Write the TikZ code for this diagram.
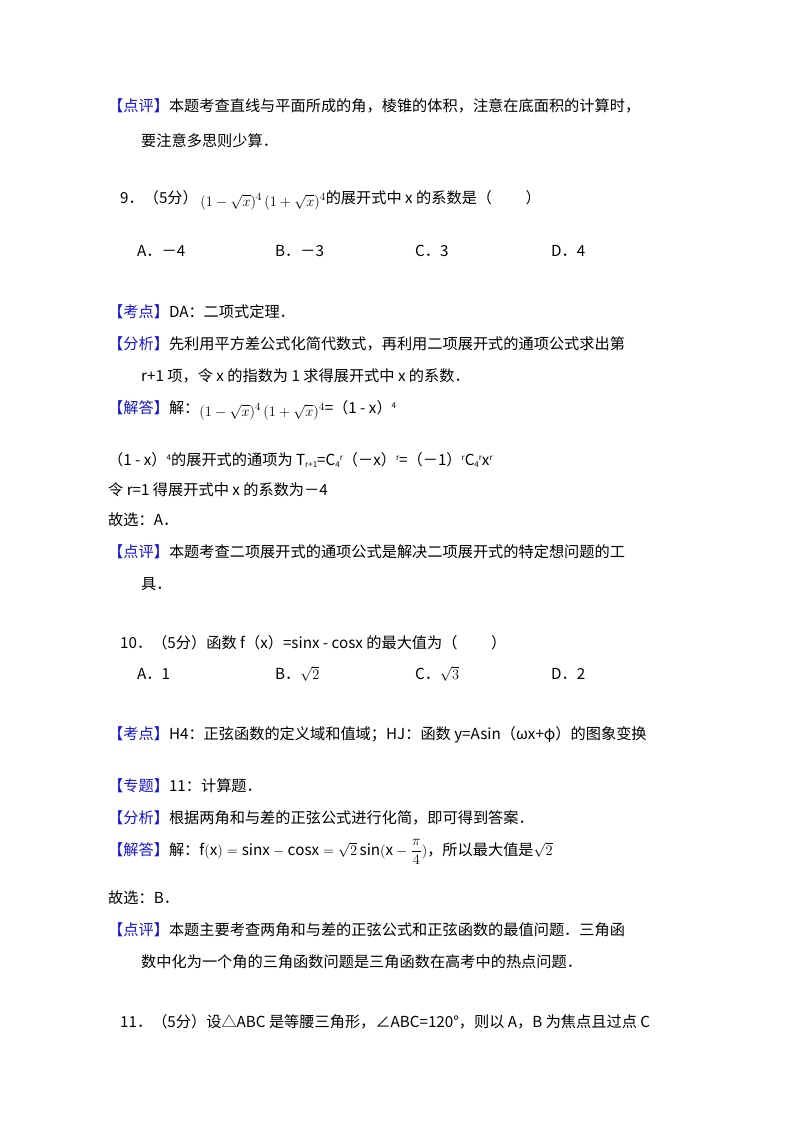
\documentclass[tikz,border=0pt]{standalone}
\usepackage{fontspec}
\setmainfont{Noto Sans CJK SC}
\definecolor{tagblue}{RGB}{20,20,220}
\newcommand{\tg}[1]{\textcolor{tagblue}{【#1】}}
\newcommand{\sps}[1]{\raisebox{5pt}{\fontsize{8}{9}\selectfont #1}}
\newcommand{\sbs}[1]{\raisebox{-2pt}{\fontsize{8}{9}\selectfont #1}}
\begin{document}
\begin{tikzpicture}[x=1pt,y=-1pt,every node/.style={anchor=west,inner sep=0pt,font=\fontsize{15.2}{18}\selectfont}]
\useasboundingbox (0,0) rectangle (800,1132);
\node (l1) at (108,106) {\tg{点评}本题考查直线与平面所成的角，棱锥的体积，注意在底面积的计算时，};
\node (l2) at (141,141) {要注意多思则少算．};
\node (l3) at (120,200) {9．（5分）\,\raisebox{-3pt}{$(1-\sqrt{x})^4\,(1+\sqrt{x})^4$}的展开式中 x 的系数是（\hspace{2.2em}）};
\node (a1) at (137,251) {A．－4};
\node (a2) at (275,251) {B．－3};
\node (a3) at (415,251) {C．3};
\node (a4) at (551,251) {D．4};
\node (l4) at (108,312) {\tg{考点}DA：二项式定理．};
\node (l5) at (108,344) {\tg{分析}先利用平方差公式化简代数式，再利用二项展开式的通项公式求出第};
\node (l6) at (141,376) {r+1 项，令 x 的指数为 1 求得展开式中 x 的系数．};
\node (l7) at (108,410) {\tg{解答}解：\raisebox{-3pt}{$(1-\sqrt{x})^4\,(1+\sqrt{x})^4$}=（1 - x）\sps{4}};
\node (l8) at (108,460) {（1 - x）\sps{4}的展开式的通项为 T\sbs{r+1}=C\sbs{4}\sps{r}（－x）\sps{r}=（－1）\sps{r}C\sbs{4}\sps{r}x\sps{r}};
\node (l9) at (108,490) {令 r=1 得展开式中 x 的系数为－4};
\node (l10) at (108,520) {故选：A．};
\node (l11) at (108,552) {\tg{点评}本题考查二项展开式的通项公式是解决二项展开式的特定想问题的工};
\node (l12) at (141,584) {具．};
\node (l13) at (120,643) {10．（5分）函数 f（x）=sinx - cosx 的最大值为（\hspace{2.2em}）};
\node (b1) at (137,674) {A．1};
\node (b2) at (275,674) {B．$\sqrt{2}$};
\node (b3) at (415,674) {C．$\sqrt{3}$};
\node (b4) at (551,674) {D．2};
\node (l14) at (108,735) {\tg{考点}H4：正弦函数的定义域和值域；HJ：函数 y=Asin（ωx+φ）的图象变换};
\node (l15) at (108,786) {\tg{专题}11：计算题．};
\node (l16) at (108,818) {\tg{分析}根据两角和与差的正弦公式进行化简，即可得到答案．};
\node (l17) at (108,852) {\tg{解答}解：$\mathrm{f(x)=sinx-cosx}=\sqrt{2}\,\mathrm{sin}(\mathrm{x}-\displaystyle\frac{\pi}{4})$，所以最大值是$\sqrt{2}$};
\node (l18) at (108,898) {故选：B．};
\node (l19) at (108,930) {\tg{点评}本题主要考查两角和与差的正弦公式和正弦函数的最值问题．三角函};
\node (l20) at (141,962) {数中化为一个角的三角函数问题是三角函数在高考中的热点问题．};
\node (l21) at (120,1022) {11．（5分）设△ABC 是等腰三角形，∠ABC=120°，则以 A，B 为焦点且过点 C};
\end{tikzpicture}
\end{document}
